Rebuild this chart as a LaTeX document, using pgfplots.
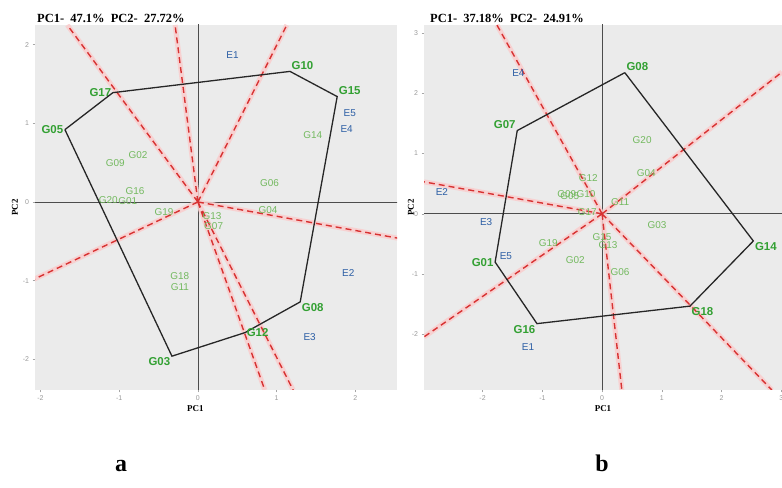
\documentclass[border=0pt]{standalone}
\usepackage{fontspec}
\setmainfont{Liberation Serif}
\newfontfamily\lsans{Liberation Sans}
\usepackage{pgfplots}
\pgfplotsset{compat=1.18}
\definecolor{vgreen}{RGB}{50,160,50}
\definecolor{lgreen}{RGB}{115,185,95}
\definecolor{eblue}{RGB}{45,95,165}
\definecolor{rayred}{RGB}{215,50,50}
\definecolor{halocol}{RGB}{250,205,205}
\definecolor{panelbg}{RGB}{235,235,235}
\pgfplotsset{
 gge/.style={scale only axis, axis background/.style={fill=panelbg}, axis line style={draw=none},
   tick align=outside, xtick pos=bottom, ytick pos=left, major tick length=2.5bp,
   every tick/.style={gray!70,line width=0.5bp},
   tick label style={font=\lsans\fontsize{7}{8}\selectfont, text=gray!80},
   /pgf/number format/assume math mode=true,
   xlabel={\textbf{PC1}}, ylabel={\textbf{PC2}}, label style={font=\fontsize{9}{10}\selectfont},
   unbounded coords=jump},
 halo/.style={halocol, line width=5bp, opacity=0.85},
 ray/.style={rayred, line width=1.4bp, dash pattern=on 6bp off 4bp},
 hull/.style={black!85, line width=1.3bp},
 origin/.style={gray!60!black, line width=0.7bp},
 vlab/.style={draw=none, mark=none, nodes near coords, point meta=explicit symbolic,
   visualization depends on={value \thisrow{anc}\as\anc},
   every node near coord/.style={anchor=\anc, inner sep=1.5bp, font=\lsans\bfseries\fontsize{11.5}{12}\selectfont, text=vgreen}},
 glab/.style={draw=none, mark=none, nodes near coords, point meta=explicit symbolic,
   every node near coord/.style={anchor=center, inner sep=0pt, font=\lsans\fontsize{10}{11}\selectfont, text=#1}},
}
\begin{document}
\begin{tikzpicture}[x=1bp,y=1bp]
\useasboundingbox (0,0) rectangle (782,488);
% ---------------- panel a ----------------
\begin{axis}[gge, at={(35bp,98bp)}, anchor=south west, width=362bp, height=365bp,
  xmin=-2.07, xmax=2.53, ymin=-2.39, ymax=2.25,
  xtick={-2,-1,0,1,2}, ytick={-2,-1,0,1,2},
  xlabel style={at={(axis description cs:0.443,0)}, anchor=center, yshift=-19bp},
  ylabel style={at={(axis description cs:0,0.5)}, anchor=center, yshift=20bp}]
\addplot[origin] coordinates {(0,-3) (0,3)};
\addplot[origin] coordinates {(-3,0) (3,0)};
\addplot[halo] coordinates {(0,0) (-1.66,2.25) (nan,nan) (0,0) (-0.29,2.25) (nan,nan) (0,0) (1.13,2.25) (nan,nan) (0,0) (2.54,-0.46) (nan,nan) (0,0) (1.21,-2.39) (nan,nan) (0,0) (0.85,-2.39) (nan,nan) (0,0) (-2.10,-0.99)};
\addplot[ray] coordinates {(0,0) (-1.66,2.25) (nan,nan) (0,0) (-0.29,2.25) (nan,nan) (0,0) (1.13,2.25) (nan,nan) (0,0) (2.54,-0.46) (nan,nan) (0,0) (1.21,-2.39) (nan,nan) (0,0) (0.85,-2.39) (nan,nan) (0,0) (-2.10,-0.99)};
\addplot[hull] coordinates {(-1.69,0.92) (-1.08,1.39) (1.17,1.66) (1.77,1.34) (1.30,-1.27) (0.60,-1.66) (-0.33,-1.96) (-1.69,0.92)};
\addplot[glab=lgreen] table[meta=lab] {
x y lab
1.46 0.85 G14
-1.05 0.50 G09
-0.76 0.60 G02
0.91 0.24 G06
-0.80 0.14 G16
-1.14 0.03 G20
-0.89 0.01 G01
0.89 -0.10 G04
-0.43 -0.13 G19
0.18 -0.18 G13
0.20 -0.31 G07
-0.23 -0.94 G18
-0.23 -1.08 G11
};
\addplot[glab=eblue] table[meta=lab] {
x y lab
0.44 1.87 E1
1.93 1.13 E5
1.89 0.93 E4
1.91 -0.90 E2
1.42 -1.72 E3
};
\addplot[vlab] table[meta=lab, col sep=comma] {
x,y,lab,anc
-1.69,0.92,G05,east
-1.08,1.39,G17,east
1.17,1.66,G10,south west
1.77,1.34,G15,south west
1.30,-1.27,G08,north west
0.60,-1.66,G12,west
-0.33,-1.96,G03,north east
};
\end{axis}
\node[anchor=base west, font=\bfseries\fontsize{12.5}{13}\selectfont, inner sep=0pt] at (37,465) {PC1-~~47.1\%~~PC2-~~27.72\%};
% ---------------- panel b ----------------
\begin{axis}[gge, at={(424bp,98bp)}, anchor=south west, width=358bp, height=365bp,
  xmin=-2.98, xmax=3.01, ymin=-2.92, ymax=3.13,
  xtick={-2,-1,0,1,2,3}, ytick={-2,-1,0,1,2,3},
  xlabel style={at={(axis description cs:0.5,0)}, anchor=center, yshift=-19bp},
  ylabel style={at={(axis description cs:0,0.5)}, anchor=center, yshift=13bp}]
\addplot[origin] coordinates {(0,-4) (0,4)};
\addplot[origin] coordinates {(-4,0) (4,0)};
\addplot[halo] coordinates {(0,0) (-1.76,3.13) (nan,nan) (0,0) (3.01,2.35) (nan,nan) (0,0) (2.84,-2.92) (nan,nan) (0,0) (0.33,-2.92) (nan,nan) (0,0) (-2.98,-2.04) (nan,nan) (0,0) (-2.98,0.53)};
\addplot[ray] coordinates {(0,0) (-1.76,3.13) (nan,nan) (0,0) (3.01,2.35) (nan,nan) (0,0) (2.84,-2.92) (nan,nan) (0,0) (0.33,-2.92) (nan,nan) (0,0) (-2.98,-2.04) (nan,nan) (0,0) (-2.98,0.53)};
\addplot[hull] coordinates {(0.38,2.34) (2.53,-0.45) (1.47,-1.53) (-1.09,-1.82) (-1.79,-0.80) (-1.42,1.38) (0.38,2.34)};
\addplot[glab=lgreen] table[meta=lab] {
x y lab
0.67 1.23 G20
0.74 0.68 G04
-0.23 0.60 G12
-0.59 0.32 G09
-0.54 0.30 G05
-0.27 0.33 G10
0.30 0.20 G11
-0.25 0.03 G17
0.92 -0.18 G03
-0.90 -0.48 G19
0.00 -0.38 G15
0.10 -0.51 G13
-0.45 -0.76 G02
0.30 -0.96 G06
};
\addplot[glab=eblue] table[meta=lab] {
x y lab
-1.40 2.34 E4
-2.68 0.36 E2
-1.94 -0.13 E3
-1.61 -0.70 E5
-1.24 -2.21 E1
};
\addplot[vlab] table[meta=lab, col sep=comma] {
x,y,lab,anc
0.38,2.34,G08,south west
-1.42,1.38,G07,south east
2.53,-0.45,G14,north west
1.47,-1.53,G18,north west
-1.09,-1.82,G16,north east
-1.79,-0.80,G01,east
};
\end{axis}
\node[anchor=base west, font=\bfseries\fontsize{12.5}{13}\selectfont, inner sep=0pt] at (430,465) {PC1-~~37.18\%~~PC2-~~24.91\%};
% ---------------- panel letters ----------------
\node[anchor=base, font=\bfseries\fontsize{24}{26}\selectfont, inner sep=0pt] at (121,16) {a};
\node[anchor=base, font=\bfseries\fontsize{24}{26}\selectfont, inner sep=0pt] at (602,16) {b};
\end{tikzpicture}
\end{document}
